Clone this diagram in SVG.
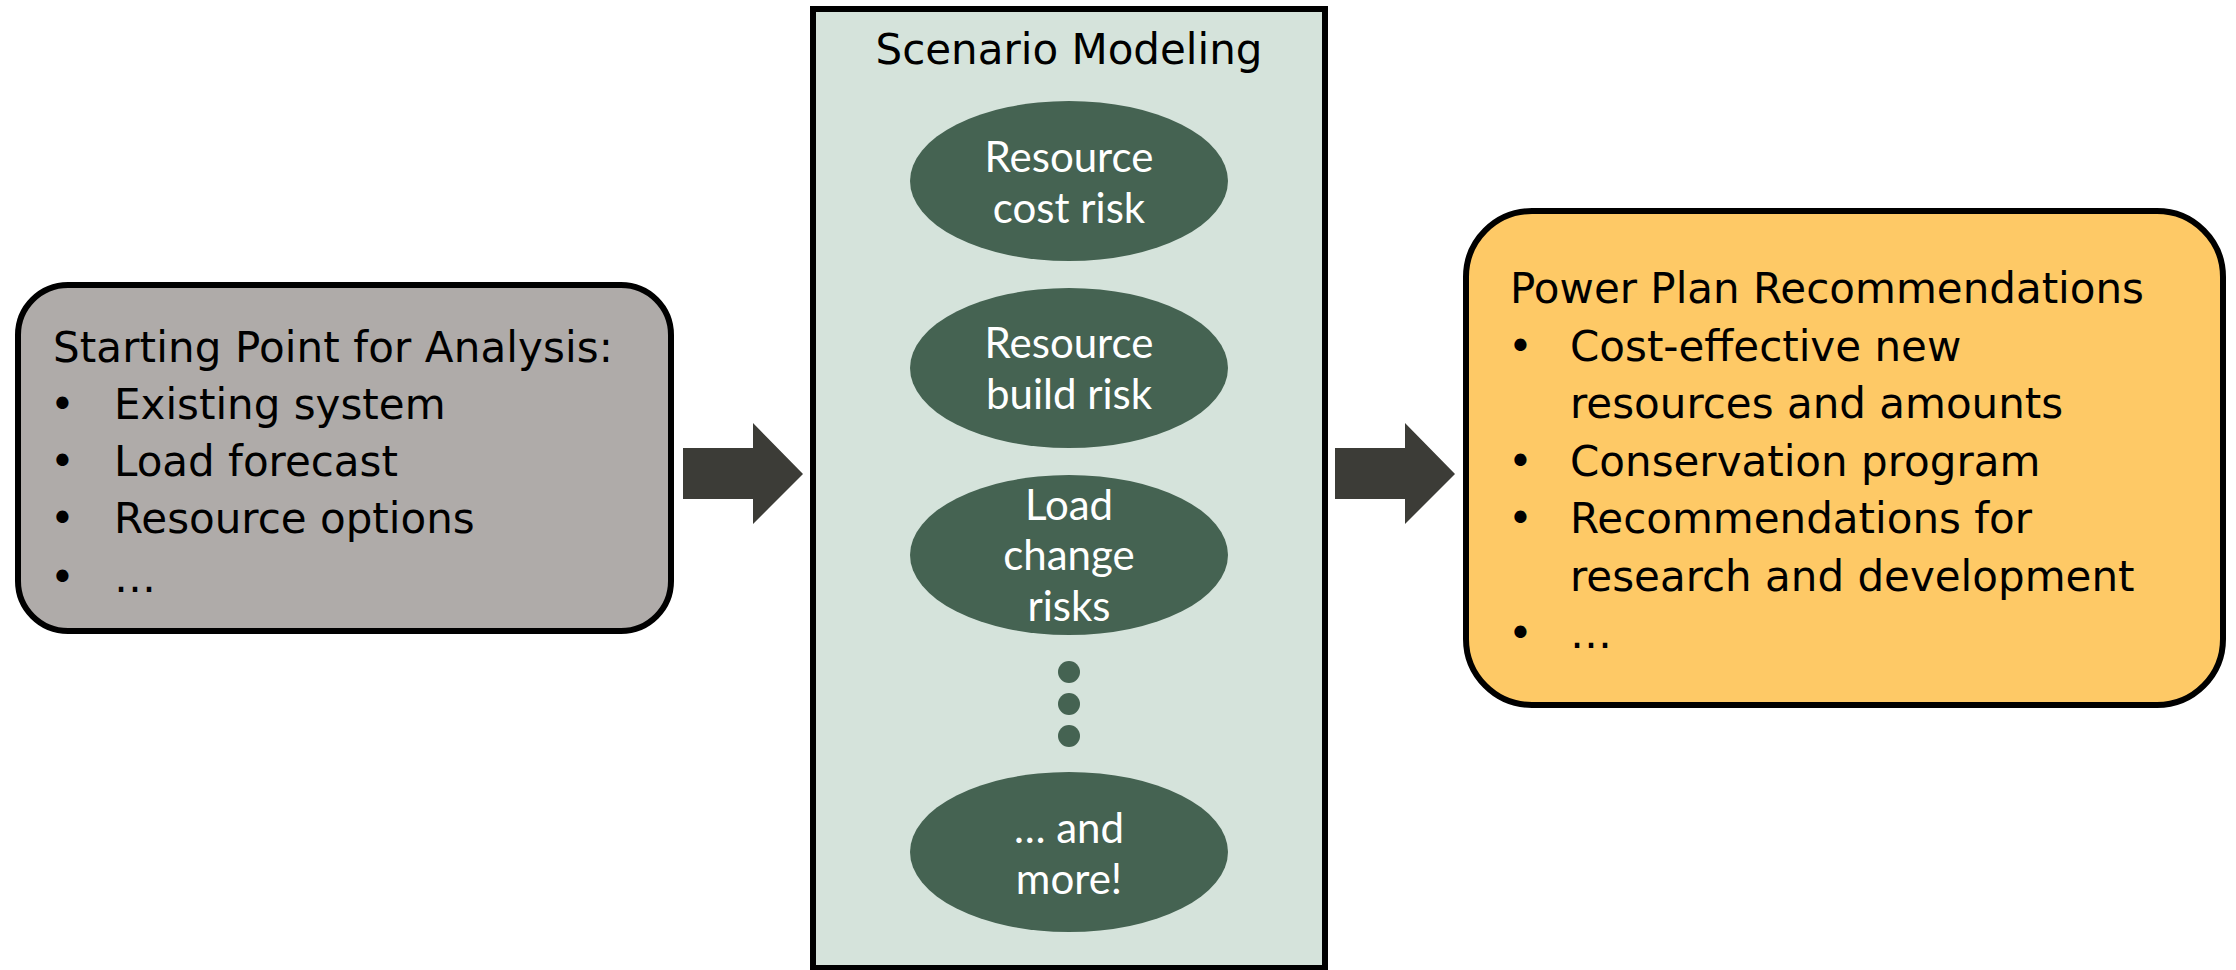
<svg xmlns="http://www.w3.org/2000/svg" width="2236" height="970" viewBox="0 0 2236 970">
<style>
.box{stroke:#000;stroke-width:6}
.bt{font-family:"DejaVu Sans",Verdana,sans-serif;font-size:42px;fill:#000}
.et{font-family:Lato,"Open Sans",sans-serif;font-size:42px;fill:#fff;text-anchor:middle}
.ell{fill:#456352}
.arr{fill:#3c3c37}
</style>
<rect width="2236" height="970" fill="#fff"/>
<g id="start">
<rect class="box" x="18" y="285" width="653" height="346" rx="50" ry="50" fill="#afaba9"/>
<text class="bt" x="53" y="362" textLength="560" lengthAdjust="spacing">Starting Point for Analysis:</text>
<text class="bt" x="50" y="419">•</text><text class="bt" x="114" y="419">Existing system</text>
<text class="bt" x="50" y="476">•</text><text class="bt" x="114" y="476">Load forecast</text>
<text class="bt" x="50" y="533">•</text><text class="bt" x="114" y="533">Resource options</text>
<text class="bt" x="50" y="592">•</text><text class="bt" x="114" y="592">…</text>
</g>
<g id="scenario">
<rect class="box" x="813" y="9" width="512" height="959" fill="#d5e3db"/>
<text class="bt" x="1069" y="64" text-anchor="middle">Scenario Modeling</text>
<g id="cost-risk">
<ellipse class="ell" cx="1069" cy="181" rx="159" ry="80"/>
<text class="et" x="1069" y="172">Resource</text>
<text class="et" x="1069" y="223">cost risk</text>
</g>
<g id="build-risk">
<ellipse class="ell" cx="1069" cy="368" rx="159" ry="80"/>
<text class="et" x="1069" y="358">Resource</text>
<text class="et" x="1069" y="409">build risk</text>
</g>
<g id="load-risk">
<ellipse class="ell" cx="1069" cy="555" rx="159" ry="80"/>
<text class="et" x="1069" y="520">Load</text>
<text class="et" x="1069" y="570">change</text>
<text class="et" x="1069" y="621">risks</text>
</g>
<g id="dots">
<circle class="ell" cx="1069" cy="672" r="11"/>
<circle class="ell" cx="1069" cy="704" r="11"/>
<circle class="ell" cx="1069" cy="736" r="11"/>
</g>
<g id="more">
<ellipse class="ell" cx="1069" cy="852" rx="159" ry="80"/>
<text class="et" x="1069" y="843">… and</text>
<text class="et" x="1069" y="894">more!</text>
</g>
</g>
<g id="recommendations">
<rect class="box" x="1466" y="211" width="757" height="494" rx="66" ry="66" fill="#fec966"/>
<text class="bt" x="1510" y="303">Power Plan Recommendations</text>
<text class="bt" x="1508" y="361">•</text><text class="bt" x="1570" y="361">Cost-effective new</text>
<text class="bt" x="1570" y="418">resources and amounts</text>
<text class="bt" x="1508" y="476">•</text><text class="bt" x="1570" y="476">Conservation program</text>
<text class="bt" x="1508" y="533">•</text><text class="bt" x="1570" y="533">Recommendations for</text>
<text class="bt" x="1570" y="591">research and development</text>
<text class="bt" x="1508" y="648">•</text><text class="bt" x="1570" y="648">…</text>
</g>
<g id="connectors">
<polygon class="arr" points="683,448 753,448 753,423 803,474 753,524 753,499 683,499"/>
<polygon class="arr" points="1335,448 1405,448 1405,423 1455,474 1405,524 1405,499 1335,499"/>
</g>
</svg>
